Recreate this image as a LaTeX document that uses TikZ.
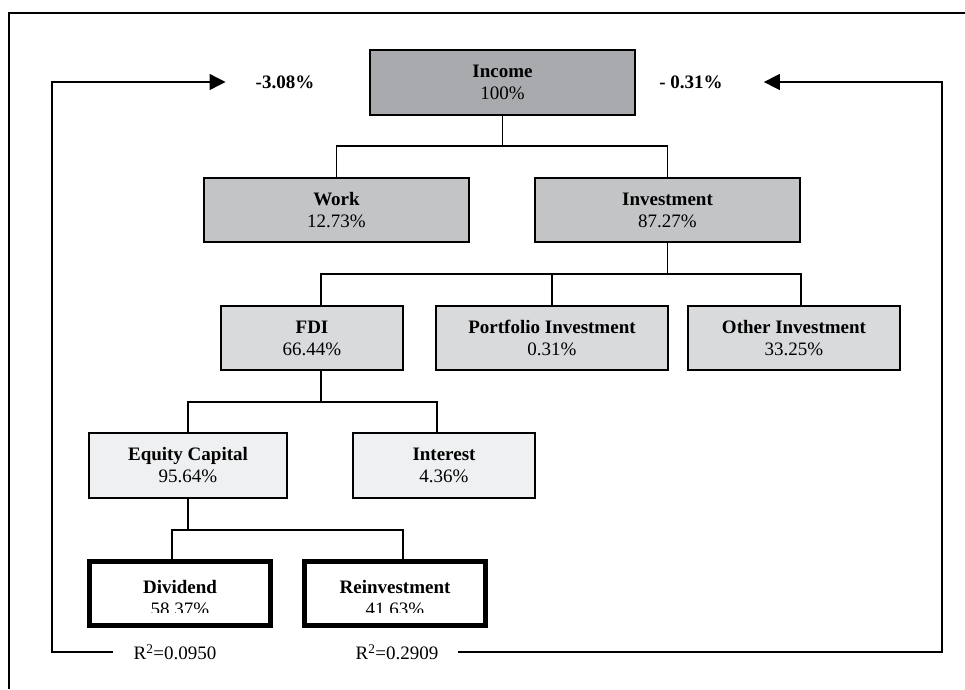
\documentclass[tikz,border=0pt]{standalone}
\usepackage{fontspec}
\setmainfont{Liberation Serif}
\usetikzlibrary{arrows.meta,calc}
\definecolor{cIncome}{RGB}{168,170,173}
\definecolor{cLevelA}{RGB}{194,196,198}
\definecolor{cLevelB}{RGB}{216,218,220}
\definecolor{cLevelC}{RGB}{239,240,241}
\tikzset{
  box/.style={draw=black,line width=1.2pt,rectangle,outer sep=0pt,inner sep=0pt,
    align=center,font=\fontsize{19}{22}\selectfont},
  thickbox/.style={draw=black,line width=5pt,rectangle,outer sep=0pt,inner sep=0pt,fill=white},
  boxtext/.style={align=center,inner sep=0pt,font=\fontsize{19}{22}\selectfont},
  lab/.style={inner sep=0pt,font=\fontsize{19}{22}\selectfont},
  conn/.style={line width=1.1pt},
  fbarrow/.style={line width=1.4pt,-{Triangle[length=16pt,width=16pt]}},
}
\begin{document}
\begin{tikzpicture}[x=1pt,y=-1pt]
\useasboundingbox (0,0) rectangle (965,689);
% outer frame (open at right and bottom)
\draw[line width=1.6pt] (9,689) -- (9,13) -- (965,13);

% boxes
\node[box,fill=cIncome,minimum width=265pt,minimum height=65pt] (income) at (502.5,82.5) {\textbf{Income}\\100\%};
\node[box,fill=cLevelA,minimum width=265pt,minimum height=64pt] (work) at (336.5,210) {\textbf{Work}\\12.73\%};
\node[box,fill=cLevelA,minimum width=265pt,minimum height=64pt] (invest) at (667.5,210) {\textbf{Investment}\\87.27\%};
\node[box,fill=cLevelB,minimum width=182pt,minimum height=64pt] (fdi) at (312,338) {\textbf{FDI}\\66.44\%};
\node[box,fill=cLevelB,minimum width=232pt,minimum height=64pt] (port) at (552,338) {\textbf{Portfolio Investment}\\0.31\%};
\node[box,fill=cLevelB,minimum width=212pt,minimum height=64pt] (other) at (794,338) {\textbf{Other Investment}\\33.25\%};
\node[box,fill=cLevelC,minimum width=198pt,minimum height=65pt] (equity) at (188,465.5) {\textbf{Equity Capital}\\95.64\%};
\node[box,fill=cLevelC,minimum width=182pt,minimum height=65pt] (interest) at (444,465.5) {\textbf{Interest}\\4.36\%};
\node[thickbox,minimum width=181pt,minimum height=64pt] (dividend) at (180,593.5) {};
\node[thickbox,minimum width=181pt,minimum height=64pt] (reinv) at (395,593.5) {};
\node[boxtext] (divt) at (180,598) {\textbf{Dividend}\\58.37\%};
\node[boxtext] (reit) at (395,598) {\textbf{Reinvestment}\\41.63\%};
% the lower part of the percentages is cut off in the original
\fill[white] ($(dividend.south west)+(2.5,-13)$) rectangle ($(dividend.south east)+(-2.5,-2.5)$);
\fill[white] ($(reinv.south west)+(2.5,-13)$) rectangle ($(reinv.south east)+(-2.5,-2.5)$);

% connectors
\draw[conn] (income.south) -- ++(0,31) -| (work.north);
\draw[conn] (income.south) -- ++(0,31) -| (invest.north);
\draw[conn] (invest.south) -- ++(0,32) -| ([xshift=9pt]fdi.north);
\draw[conn] (invest.south) -- ++(0,32) -| (port.north);
\draw[conn] (invest.south) -- ++(0,32) -| ([xshift=7pt]other.north);
\draw[conn] ([xshift=9pt]fdi.south) -- ++(0,32) -| (equity.north);
\draw[conn] ([xshift=9pt]fdi.south) -- ++(0,32) -| ([xshift=-7pt]interest.north);
\draw[conn] (equity.south) -- ++(0,32) -| ([xshift=-8pt]dividend.north);
\draw[conn] (equity.south) -- ++(0,32) -| ([xshift=8pt]reinv.north);

% labels
\node[lab] (lab1) at (285,82) {\textbf{-3.08\%}};
\node[lab] (lab2) at (691,82) {\textbf{- 0.31\%}};
\node[lab] (r1) at (175,652) {R\textsuperscript{2}=0.0950};
\node[lab] (r2) at (397,652) {R\textsuperscript{2}=0.2909};
\coordinate (lbot) at (52,652);
\coordinate (ltop) at (52,82);
\coordinate (rbot) at (942,652);
\coordinate (rtop) at (942,82);

% feedback arrows
\draw[fbarrow] ([xshift=-20pt]r1.west) -- (lbot) -- (ltop) -- ([xshift=-30pt]lab1.west);
\draw[fbarrow] ([xshift=19pt]r2.east) -- (rbot) -- (rtop) -- ([xshift=41pt]lab2.east);
\end{tikzpicture}
\end{document}
